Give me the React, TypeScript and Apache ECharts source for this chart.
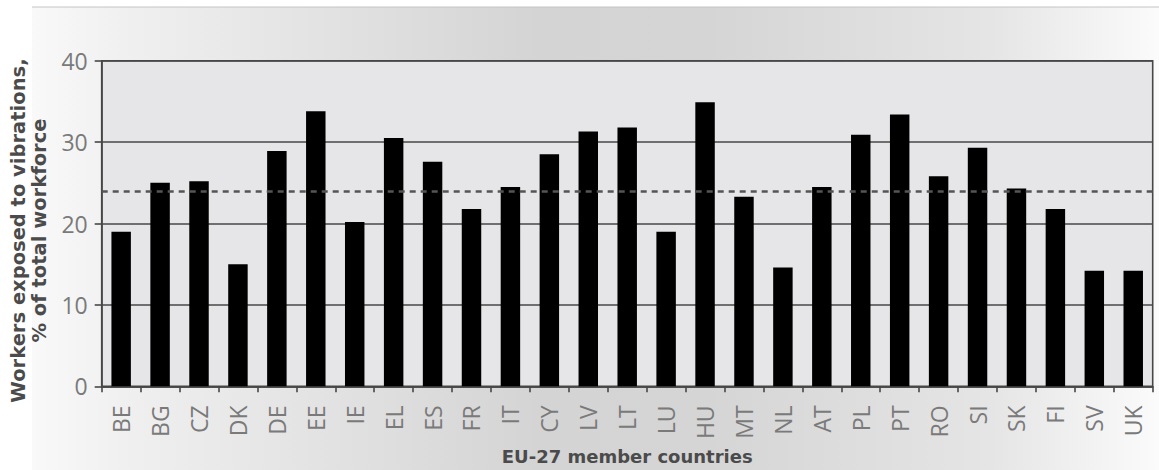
import React, { useEffect, useRef } from "react";
import * as echarts from "echarts";

// Share of workers exposed to vibrations, by EU-27 member country
const countries = [
  "BE", "BG", "CZ", "DK", "DE", "EE", "IE", "EL", "ES", "FR", "IT", "CY", "LV", "LT",
  "LU", "HU", "MT", "NL", "AT", "PL", "PT", "RO", "SI", "SK", "FI", "SV", "UK",
];
const exposedShare = [
  19.0, 25.0, 25.2, 15.0, 28.9, 33.8, 20.2, 30.5, 27.6, 21.8, 24.5, 28.5, 31.3, 31.8,
  19.0, 34.9, 23.3, 14.6, 24.5, 30.9, 33.4, 25.8, 29.3, 24.3, 21.8, 14.2, 14.2,
];
const euAverage = 24;
const yTicks = [0, 10, 20, 30, 40];

const W = 1159;
const H = 470;

export default function App() {
  const ref = useRef<HTMLDivElement>(null);

  useEffect(() => {
    document.body.style.margin = "0";
    if (!ref.current) return;
    const chart = echarts.init(ref.current, undefined, { renderer: "svg" });

    const labelGray = "#7a7a7a";
    const lineGray = "#474747";
    const nameGray = "#4b4b4b";

    chart.setOption({
      animation: false,
      graphic: [
        {
          type: "rect",
          z: -10,
          silent: true,
          shape: { x: 32, y: 7, width: W - 32, height: H - 7 },
          style: {
            fill: new echarts.graphic.LinearGradient(0, 0, 1, 0, [
              { offset: 0, color: "#f9f9f9" },
              { offset: 0.08, color: "#f0f0f0" },
              { offset: 0.45, color: "#d4d4d4" },
              { offset: 0.6, color: "#d5d5d5" },
              { offset: 0.85, color: "#e5e5e5" },
              { offset: 1, color: "#fbfbfb" },
            ]),
          },
        },
        {
          type: "line",
          z: -9,
          silent: true,
          shape: { x1: 32, y1: 7, x2: W, y2: 7 },
          style: { stroke: "#c4c4c4", lineWidth: 1 },
        },
      ],
      grid: {
        left: 101.7,
        right: W - 1152.7,
        top: 60.7,
        bottom: H - 388.7,
        show: true,
        backgroundColor: "#e6e6e8",
        borderColor: lineGray,
        borderWidth: 1.6,
      },
      xAxis: {
        type: "category",
        data: countries,
        boundaryGap: true,
        axisLine: { show: true, lineStyle: { color: lineGray, width: 1.6 } },
        axisTick: {
          show: true,
          interval: 0,
          length: 6,
          lineStyle: { color: lineGray, width: 1.6 },
        },
        axisLabel: {
          interval: 0,
          rotate: 90,
          margin: 19,
          fontSize: 23,
          fontFamily: "Open Sans",
          color: labelGray,
        },
        name: "EU-27 member countries",
        nameLocation: "middle",
        nameGap: 52,
        nameTextStyle: {
          fontFamily: "DejaVu Sans",
          fontWeight: "bold",
          fontSize: 18,
          color: nameGray,
        },
      },
      yAxis: {
        type: "value",
        min: yTicks[0],
        max: yTicks[yTicks.length - 1],
        interval: 10,
        axisLine: { show: true, lineStyle: { color: lineGray, width: 1.6 } },
        axisTick: { show: true, length: 7, lineStyle: { color: lineGray, width: 1.6 } },
        axisLabel: {
          margin: 14,
          fontSize: 23,
          fontFamily: "Open Sans",
          color: labelGray,
        },
        splitLine: { show: true, lineStyle: { color: lineGray, width: 1.6 } },
        name: "Workers exposed to vibrations,\n% of total workforce",
        nameLocation: "middle",
        nameGap: 50,
        nameTextStyle: {
          fontFamily: "DejaVu Sans",
          fontWeight: "bold",
          fontSize: 19.5,
          lineHeight: 21,
          color: nameGray,
          align: "center",
          padding: [0, 14, 0, 0],
        },
      },
      series: [
        {
          type: "bar",
          data: exposedShare,
          barWidth: "50%",
          itemStyle: { color: "#000000" },
          markLine: {
            silent: true,
            symbol: "none",
            label: { show: false },
            lineStyle: { color: "#555555", type: [6, 5], width: 2.5 },
            data: [{ yAxis: euAverage }],
          },
        },
      ],
    });

    return () => chart.dispose();
  }, []);

  return <div ref={ref} style={{ width: W, height: H }} />;
}
